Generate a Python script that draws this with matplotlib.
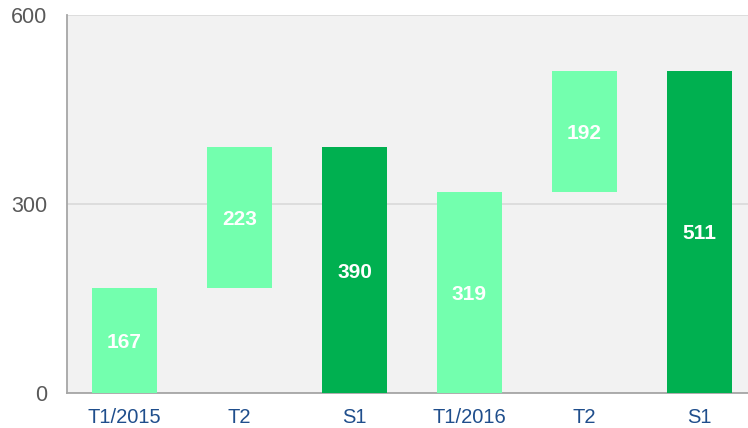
import matplotlib
matplotlib.use('Agg')
import matplotlib.pyplot as plt

# donnees du graphique (cascade)
categories = ["T1/2015", "T2", "S1", "T1/2016", "T2", "S1"]
values = [167, 223, 390, 319, 192, 511]
bottoms = [0, 167, 0, 0, 319, 0]
is_total = [False, False, True, False, False, True]

light_green = "#73FFAE"
dark_green = "#00B050"

fig = plt.figure(figsize=(7.48, 4.28), dpi=100)
W, H = 748, 428
left, right, top, bottom = 67, 757, 15, 393
ax = fig.add_axes([left / W, 1 - bottom / H, (right - left) / W, (bottom - top) / H])
ax.set_facecolor("#F2F2F2")

x = range(len(categories))
colors = [dark_green if t else light_green for t in is_total]
ax.bar(x, values, bottom=bottoms, width=0.56, color=colors, zorder=3)

for i, (v, b) in enumerate(zip(values, bottoms)):
    ax.text(i, b + v / 2 - 3, str(v), ha="center", va="center", color="white",
            fontsize=15, fontweight="bold", family="Liberation Sans", zorder=4)

ax.set_xlim(-0.5, len(categories) - 0.5)
ax.set_ylim(0, 600)
ax.set_yticks([0, 300, 600])
ax.yaxis.grid(True, color="#D9D9D9", linewidth=1.2, zorder=0)
ax.set_axisbelow(True)

ax.set_xticks(list(x))
ax.set_xticklabels(categories, color="#1F4E8C", fontsize=14.5, family="Liberation Sans")
for lbl in ax.get_yticklabels():
    lbl.set_color("#595959")
    lbl.set_fontsize(15.5)
    lbl.set_family("Liberation Sans")
ax.tick_params(axis="both", length=0)
ax.tick_params(axis="x", pad=11)
ax.tick_params(axis="y", pad=14)

ax.spines["top"].set_visible(False)
ax.spines["right"].set_visible(False)
ax.spines["left"].set_color("#A6A6A6")
ax.spines["left"].set_linewidth(1.3)
ax.spines["bottom"].set_color("#A6A6A6")
ax.spines["bottom"].set_linewidth(1.3)

fig.savefig("out.png", dpi=100)
